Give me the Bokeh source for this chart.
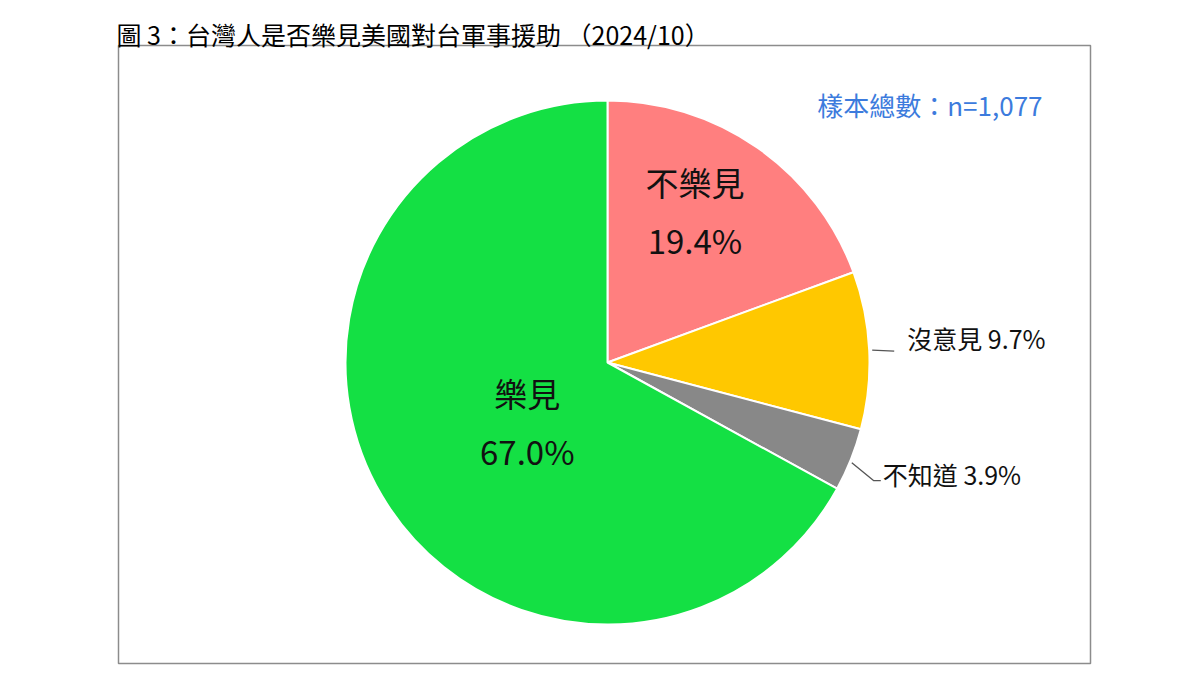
import math
from bokeh.plotting import figure
from bokeh.models import Range1d
from bokeh.core.properties import value
from bokeh.embed import file_html
from bokeh.resources import INLINE

# ---- data ----
categories = ["不樂見", "沒意見", "不知道", "樂見"]
percents = [19.4, 9.7, 3.9, 67.0]
colors = ["#FF7F7F", "#FFC800", "#888888", "#14E044"]
title_text = "圖 3：台灣人是否樂見美國對台軍事援助 （2024/10）"
sample_text = "樣本總數：n=1,077"

W, H = 1184, 667
FONT = "Noto Sans CJK TC"

def Y(py):  # page pixel y -> data y
    return 675 - py

p = figure(width=W, height=H, x_range=Range1d(0, W), y_range=Range1d(675 - H, 675),
           output_backend="svg", toolbar_location=None, min_border=0)
p.xaxis.visible = False
p.yaxis.visible = False
p.grid.visible = False
p.outline_line_color = None
p.background_fill_color = "white"

# frame box
p.quad(left=[118], right=[1090], top=[Y(45)], bottom=[Y(663)], fill_color=None,
       line_color="#8C8C8C", line_width=1.5)

# title
p.text(x=[116], y=[Y(33)], text=[title_text], text_font=value(FONT), text_font_size="25px",
       text_color="#000000", text_baseline="middle", text_align="left")

# sample size
p.text(x=[1042], y=[Y(104)], text=[sample_text], text_font=value(FONT), text_font_size="26px",
       text_color="#3C7BDD", text_baseline="middle", text_align="right")

# pie
cx, cy, R = 607, Y(362), 262
total = sum(percents)
cum = 0.0
starts, ends, mids = [], [], []
for v in percents:
    a0 = math.pi / 2 - 2 * math.pi * cum / total
    cum += v
    a1 = math.pi / 2 - 2 * math.pi * cum / total
    starts.append(a1)
    ends.append(a0)
    mids.append((a0 + a1) / 2)

p.wedge(x=cx, y=cy, radius=R, start_angle=starts, end_angle=ends, direction="anticlock",
        fill_color=colors, line_color="white", line_width=2)

# inside labels (不樂見, 樂見): radial fraction and fine offsets in px
inside = {0: (0.65, -10, 12), 3: (0.40, 10, -6)}
for i, (rf, ox, oy) in inside.items():
    tx = cx + rf * R * math.cos(mids[i]) + ox
    ty = cy + rf * R * math.sin(mids[i]) + oy
    p.text(x=[tx], y=[ty], text=[categories[i]], y_offset=-29, text_font=value(FONT),
           text_font_size="33px", text_color="#111111", text_align="center", text_baseline="middle")
    p.text(x=[tx], y=[ty], text=[f"{percents[i]:.1f}%"], y_offset=29, text_font=value(FONT),
           text_font_size="33px", text_color="#111111", text_align="center", text_baseline="middle")

# outside labels with leader lines
# 沒意見
i = 1
ex, ey = cx + R * math.cos(mids[i]), cy + R * math.sin(mids[i])
p.line(x=[ex + 3, ex + 25], y=[ey, ey - 1], line_color="#555555", line_width=1.3)
p.text(x=[ex + 38], y=[ey - 1], text=[f"{categories[i]} {percents[i]:.1f}%"], text_font=value(FONT),
       text_font_size="25px", text_color="#111111", text_align="left", text_baseline="middle",
       y_offset=-13)
# 不知道
i = 2
ex, ey = cx + R * math.cos(mids[i]), cy + R * math.sin(mids[i])
p.line(x=[ex + 1, ex + 23, ex + 30], y=[ey - 3, ey - 21, ey - 21], line_color="#555555", line_width=1.3)
p.text(x=[ex + 32], y=[ey - 21], text=[f"{categories[i]} {percents[i]:.1f}%"], text_font=value(FONT),
       text_font_size="25px", text_color="#111111", text_align="left", text_baseline="middle",
       y_offset=-7)

open("out.html", "w").write(file_html(p, INLINE))
